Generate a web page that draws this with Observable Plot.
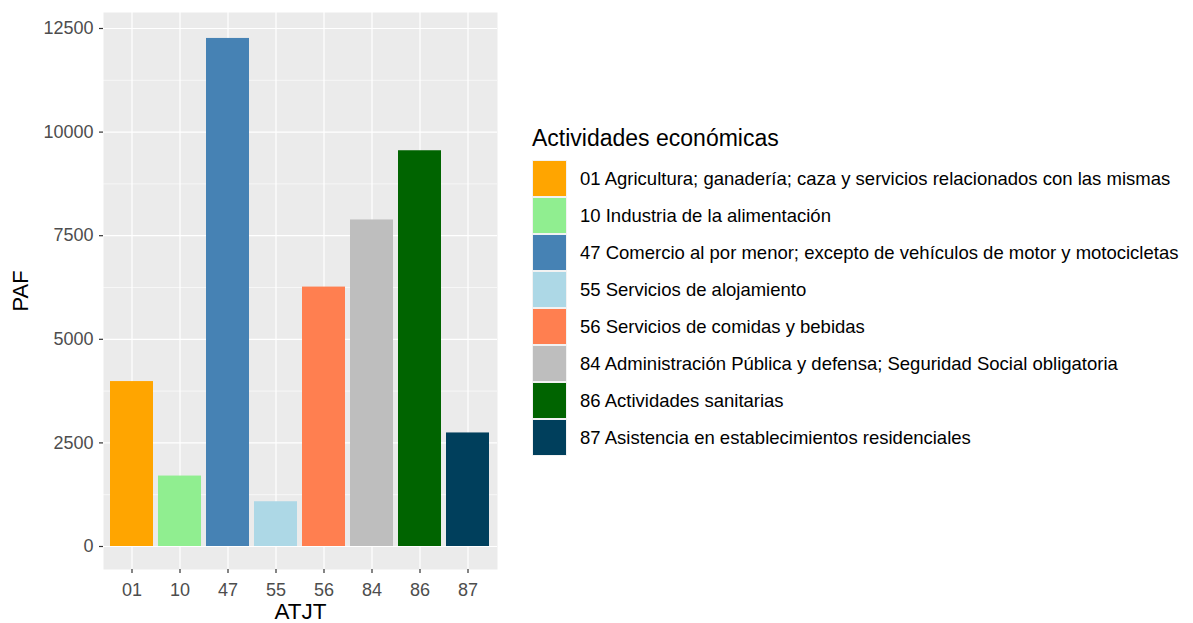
<!DOCTYPE html>
<html>
<head>
<meta charset="utf-8">
<script src="https://cdn.jsdelivr.net/npm/d3@7"></script>
<script src="https://cdn.jsdelivr.net/npm/@observablehq/plot@0.6"></script>
<style>
  html, body { margin: 0; padding: 0; background: #ffffff; }
  #wrap { position: relative; width: 1193px; height: 623px; overflow: hidden; font-family: "Liberation Sans", Arial, sans-serif; }
  #wrap svg { position: absolute; left: 0; top: 0; }
</style>
</head>
<body>
<div id="wrap"></div>
<script>
// ---- data ----
const codes = ["01", "10", "47", "55", "56", "84", "86", "87"];
const values = [3980, 1700, 12260, 1080, 6260, 7880, 9550, 2740];
const labels = [
  "01 Agricultura; ganadería; caza y servicios relacionados con las mismas",
  "10 Industria de la alimentación",
  "47 Comercio al por menor; excepto de vehículos de motor y motocicletas",
  "55 Servicios de alojamiento",
  "56 Servicios de comidas y bebidas",
  "84 Administración Pública y defensa; Seguridad Social obligatoria",
  "86 Actividades sanitarias",
  "87 Asistencia en establecimientos residenciales"
];
const colors = ["#FFA500", "#90EE90", "#4682B4", "#ADD8E6", "#FF7F50", "#BEBEBE", "#006400", "#003F5C"];
const yMajor = [0, 2500, 5000, 7500, 10000, 12500];
const yMinor = [1250, 3750, 6250, 8750, 11250];
const yDomain = [-555, 12886];
const xTitle = "ATJT";
const yTitle = "PAF";
const legendTitle = "Actividades económicas";

const data = codes.map((c, i) => ({code: c, value: values[i]}));
const font = "'Liberation Sans', Arial, sans-serif";

const chart = Plot.plot({
  width: 1193,
  height: 623,
  marginTop: 12,
  marginBottom: 54,
  marginLeft: 103,
  marginRight: 696,
  style: {fontFamily: font, background: "transparent", overflow: "visible"},
  x: {type: "band", domain: codes, paddingInner: 0.1, paddingOuter: 0.15, align: 0.5},
  y: {domain: yDomain},
  color: {domain: codes, range: colors},
  marks: [
    Plot.frame({fill: "#EBEBEB", stroke: "none"}),
    Plot.gridY({ticks: yMinor, stroke: "#ffffff", strokeOpacity: 1, strokeWidth: 0.6}),
    Plot.gridY({ticks: yMajor, stroke: "#ffffff", strokeOpacity: 1, strokeWidth: 1.2}),
    Plot.gridX({stroke: "#ffffff", strokeOpacity: 1, strokeWidth: 1.2}),
    Plot.barY(data, {x: "code", y: "value", fill: "code"}),
    Plot.axisY({ticks: yMajor, tickSize: 4, tickPadding: 6, tickFormat: d => String(d), fontSize: 18, color: "#4D4D4D", stroke: "#333333", strokeWidth: 1.2, label: null}),
    Plot.axisX({tickSize: 4, tickPadding: 9.5, fontSize: 18, color: "#4D4D4D", stroke: "#333333", strokeWidth: 1.2, label: null}),
    Plot.text([xTitle], {frameAnchor: "bottom", dy: 42.5, fontSize: 22.5, fill: "#000000", lineAnchor: "middle", textAnchor: "middle"}),
    Plot.text([yTitle], {frameAnchor: "left", dx: -82.5, rotate: -90, fontSize: 22, fill: "#000000", lineAnchor: "middle", textAnchor: "middle"})
  ]
});
document.getElementById("wrap").appendChild(chart);

// ---- legend ----
const leg = d3.select("#wrap").append("svg")
  .attr("width", 1193).attr("height", 623)
  .style("font-family", font)
  .style("pointer-events", "none");

leg.append("text")
  .attr("x", 532).attr("y", 146)
  .attr("font-size", 23)
  .attr("fill", "#000000")
  .text(legendTitle);

const keyH = 37, keyW = 35, keyX = 532, keyY = 160;
const g = leg.selectAll("g.key").data(codes).join("g").attr("class", "key");
g.append("rect")
  .attr("x", keyX).attr("y", (d, i) => keyY + i * keyH)
  .attr("width", keyW).attr("height", keyH)
  .attr("fill", "#F2F2F2");
g.append("rect")
  .attr("x", keyX + 1).attr("y", (d, i) => keyY + i * keyH + 1)
  .attr("width", keyW - 2).attr("height", keyH - 2)
  .attr("fill", (d, i) => colors[i]);
g.append("text")
  .attr("x", 580).attr("y", (d, i) => keyY + i * keyH + keyH / 2 + 0.5)
  .attr("dy", "0.35em")
  .attr("font-size", 18.5)
  .attr("fill", "#000000")
  .text((d, i) => labels[i]);
</script>
</body>
</html>
